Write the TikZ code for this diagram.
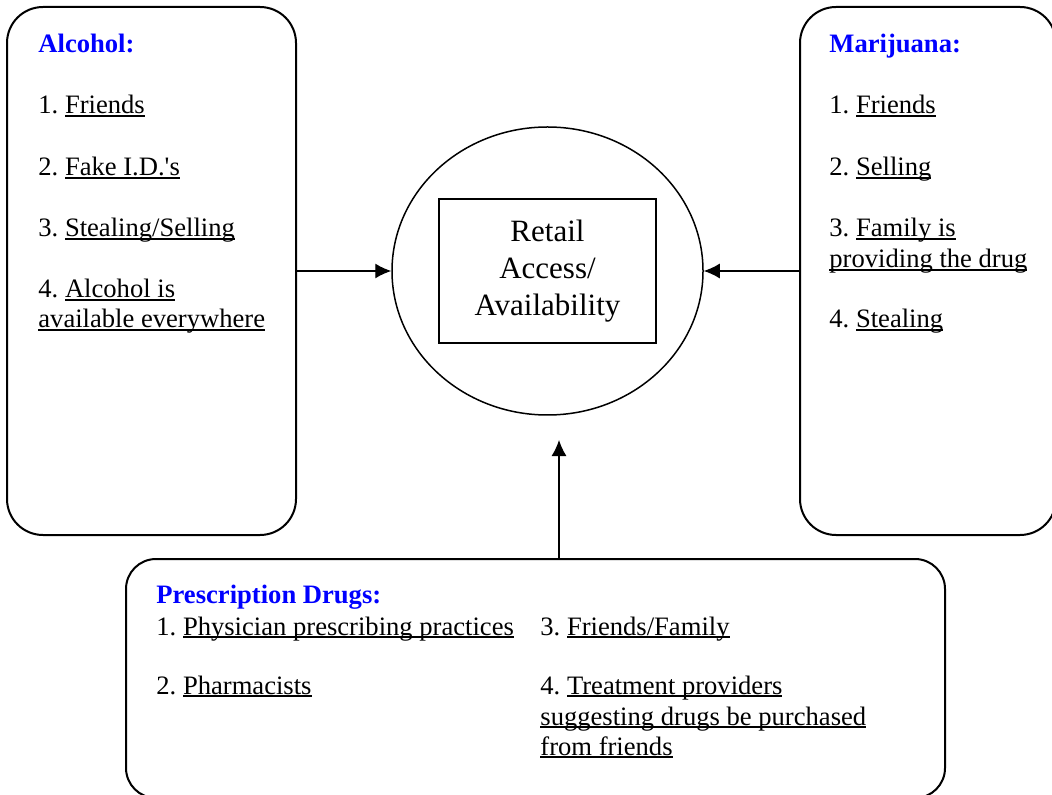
\documentclass[tikz,border=0pt]{standalone}
\usepackage{fontspec}
\setmainfont{Liberation Serif}
\usetikzlibrary{shapes.geometric,arrows.meta}
\frenchspacing

\newsavebox{\ulbox}
\newcommand{\uln}[1]{\sbox{\ulbox}{#1}\rlap{\rule[-1.35pt]{\wd\ulbox}{0.65pt}}\usebox{\ulbox}}

\tikzset{
  group/.style={draw, line width=1pt, rounded corners=18pt},
  item/.style={anchor=base west, inner sep=0pt, font=\fontsize{13.3}{15.35}\selectfont},
  head/.style={item, font=\fontsize{13.3}{15.35}\selectfont\bfseries, text=blue},
  link/.style={line width=0.65pt, -{Latex[length=8pt,width=7.5pt]}}
}

\begin{document}
\begin{tikzpicture}[x=0.5pt, y=-0.5pt]
    \useasboundingbox (0,0) rectangle (1052,795);

    \node [group, minimum width=144.5pt, minimum height=264pt] (alcohol) at (151.5,271) {};
    \node [group, minimum width=128pt, minimum height=264pt] (marijuana) at (928,271) {};
    \node [group, rounded corners=15pt, minimum width=409.5pt, minimum height=119.5pt] (prescr) at (535.5,678.5) {};

    \node [draw, ellipse, line width=0.75pt, inner sep=0pt, minimum width=155.5pt, minimum height=144pt] (access) at (547.5,271) {};
    \node [draw, line width=1pt, minimum width=108.5pt, minimum height=72pt, align=center,
           font=\fontsize{15.5}{18.5}\selectfont] (retail) at (547.5,271) {Retail\\Access/\\Availability};

    % alcohol
    \node [head] (alchead) at (38,53) {Alcohol:};
    \node [item] (alc1) at (38,114) {1. \uln{Friends}};
    \node [item] (alc2) at (38,176) {2. \uln{Fake I.D.\textquotesingle s}};
    \node [item] (alc3) at (38,237) {3. \uln{Stealing/Selling}};
    \node [item] (alc4a) at (38,298) {4. \uln{Alcohol is}};
    \node [item] (alc4b) at (38,328) {\uln{available everywhere}};

    % marijuana
    \node [head] (marhead) at (829,53) {Marijuana:};
    \node [item] (mar1) at (829,114) {1. \uln{Friends}};
    \node [item] (mar2) at (829,176) {2. \uln{Selling}};
    \node [item] (mar3a) at (829,237) {3. \uln{Family is}};
    \node [item] (mar3b) at (829,268) {\uln{providing the drug}};
    \node [item] (mar4) at (829,328) {4. \uln{Stealing}};

    % prescription drugs
    \node [head] (prehead) at (156,603) {Prescription Drugs:};
    \node [item] (pre1) at (156,635) {1. \uln{Physician prescribing practices}};
    \node [item] (pre2) at (156,694) {2. \uln{Pharmacists}};
    \node [item] (pre3) at (540,635) {3. \uln{Friends/Family}};
    \node [item] (pre4a) at (540,694) {4. \uln{Treatment providers}};
    \node [item] (pre4b) at (540,725) {\uln{suggesting drugs be purchased}};
    \node [item] (pre4c) at (540,755) {\uln{from friends}};

    \coordinate (uptip) at (559,440);

    \draw [link] (alcohol.east) -- (access.west);
    \draw [link] (marijuana.west) -- (access.east);
    \draw [link] (uptip |- prescr.north) -- (uptip);

\end{tikzpicture}
\end{document}
